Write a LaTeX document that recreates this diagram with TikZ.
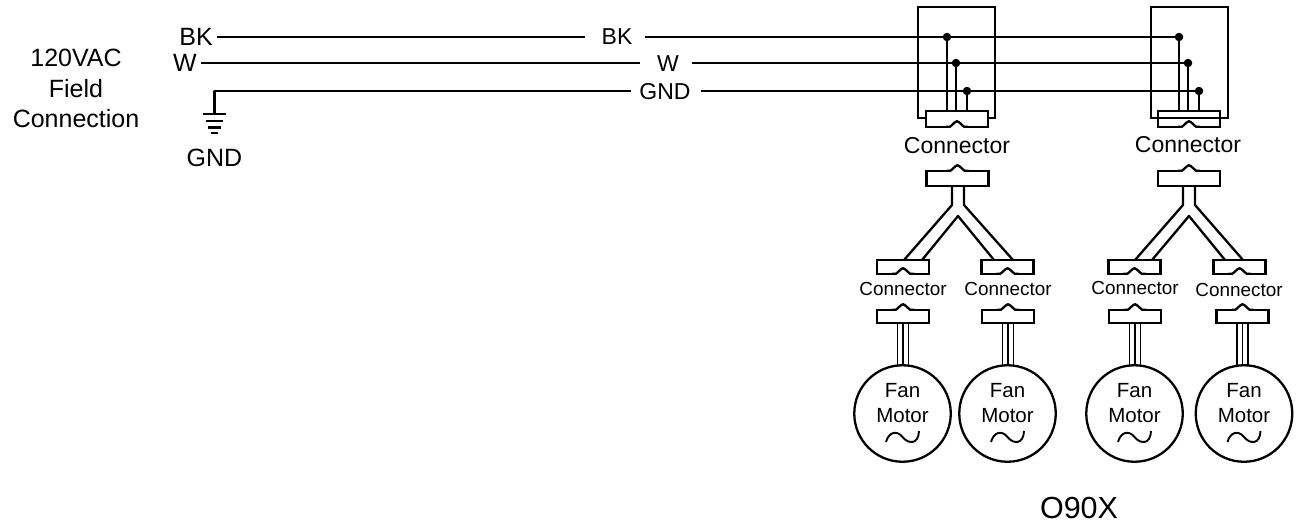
\documentclass[tikz,border=0pt]{standalone}
\usepackage{fontspec}
\setmainfont{Liberation Sans}

\tikzset{
	wire/.style={line width=2.3pt,line join=round},
	thin wire/.style={line width=1.9pt},
	lbl/.style={inner sep=0pt,align=center,font=\fontsize{23}{23}\selectfont},
	lbl big/.style={inner sep=0pt,align=center,font=\fontsize{25}{30.5}\selectfont},
	lbl small/.style={inner sep=0pt,align=center,font=\fontsize{18.9}{18.9}\selectfont},
	junction/.style={shape=circle,fill=black,inner sep=0pt,minimum size=8.5pt},
	panel/.style={shape=rectangle,draw=black,line width=2.3pt,inner sep=0pt,outer sep=0pt,minimum width=77pt,minimum height=111pt},
	plug big/.style={shape=rectangle,draw=black,line width=2.3pt,inner sep=0pt,outer sep=0pt,minimum width=62pt,minimum height=15.5pt},
	plug small/.style={shape=rectangle,draw=black,line width=2.3pt,inner sep=0pt,outer sep=0pt,minimum width=52pt,minimum height=13.5pt},
	motor/.style={shape=circle,draw=black,line width=2.3pt,inner sep=0pt,outer sep=0pt,minimum size=96.5pt},
	bump/.pic={
		\draw[white,line width=3pt] (-9.5,0) -- (9.5,0);
		\draw[wire] (-11,0) -- (-7,0) -- (-2,-4.5) -- (0,-5.5) -- (2,-4.5) -- (7,0) -- (11,0);
	},
	tilde/.pic={
		\draw[thin wire] (-16.5,28.5) .. controls (-14,19) and (-6,16) .. (0,23.5) .. controls (6,31) and (16,31) .. (16.5,17.5);
	},
}

\begin{document}
\begin{tikzpicture}[x=1pt,y=-1pt]
	
	\useasboundingbox (0,0) rectangle (1297,527);
	
	\node[lbl big] (field) at (76,88.5) {120VAC\\Field\\Connection};
	\node[lbl big] (bkl) at (196,37) {BK};
	\node[lbl big] (wl) at (185,63) {W};
	\node[lbl big] (gndl) at (214.5,158) {GND};
	\node[lbl] (bkm) at (617,37) {BK};
	\node[lbl] (wm) at (668,64) {W};
	\node[lbl] (gndm) at (665,92) {GND};
	\node[lbl big,font=\fontsize{30.5}{30.5}\selectfont] (model) at (1079,508) {O90X};
	
	% field wiring
	\coordinate (e) at (214.5,91);
	\coordinate (eg) at (214.5,114);
	\path (bkl.east) ++(4,0) coordinate (bka);
	\path (wl.east) ++(4,0) coordinate (wa);
	\draw[wire] (bka) -- (585,37);
	\draw[wire] (wa) -- (640,63);
	\draw[wire] (eg) -- (e) -- (631,91);
	\draw[wire] (203,114) -- (226,114);
	\draw[wire] (206,121) -- (223,121);
	\draw[wire] (208,127.5) -- (221,127.5);
	\draw[wire] (211,133) -- (218,133);
	
	% upper boxes
	\node[panel] (boxa) at (956.5,62.5) {};
	\node[panel] (boxb) at (1189.5,62.5) {};
	\node[junction] (a1) at (947,37) {};
	\node[junction] (a2) at (956,63) {};
	\node[junction] (a3) at (967,91) {};
	\node[junction] (b1) at (1179,37) {};
	\node[junction] (b2) at (1188,63) {};
	\node[junction] (b3) at (1199,91) {};
	\draw[wire] (645,37) -- (a1) -- (b1);
	\draw[wire] (692,63) -- (a2) -- (b2);
	\draw[wire] (701,91) -- (a3) -- (b3);
	\node[plug big,fill=white] (ca) at (957,119) {} pic at (ca.south) {bump};
	\node[plug big] (cb) at (1189,119) {} pic at (cb.south) {bump};
	\draw[wire] (a1) -- (a1 |- ca.north);
	\draw[wire] (a2) -- (a2 |- ca.north);
	\draw[thin wire] (a3) -- (a3 |- ca.north);
	\draw[wire] (b1) -- (b1 |- cb.north);
	\draw[wire] (b2) -- (b2 |- cb.north);
	\draw[thin wire] (b3) -- (b3 |- cb.north);
	\node[lbl] (ta) at (957,146) {Connector};
	\node[lbl] (tb) at (1188,145) {Connector};
	
	% harness plugs
	\node[plug big] (ha) at (957.5,178.5) {} pic at (ha.north) {bump};
	\node[plug big] (hb) at (1189,178.5) {} pic at (hb.north) {bump};
	\node[plug small] (la) at (903,267) {} pic at (la.south) {bump};
	\node[plug small] (ra) at (1007.5,267) {} pic at (ra.south) {bump};
	\node[plug small] (lb) at (1134.5,267) {} pic at (lb.south) {bump};
	\node[plug small] (rb) at (1239.5,267) {} pic at (rb.south) {bump};
	
	% harness
	\coordinate (ia) at (958,216);
	\coordinate (ib) at (1189,216);
	\draw[wire] (952,186) -- (952,205) -- (904,260);
	\draw[wire] (964,186) -- (964,205) -- (1013,260);
	\draw[wire] (922,260) -- (ia) -- (994,260);
	\draw[wire] (1183,186) -- (1183,205) -- (1135,260);
	\draw[wire] (1195,186) -- (1195,205) -- (1243,260);
	\draw[wire] (1152,260) -- (ib) -- (1225,260);
	
	\node[lbl small] (tla) at (903,289) {Connector};
	\node[lbl small] (tra) at (1008,289) {Connector};
	\node[lbl small] (tlb) at (1135,288) {Connector};
	\node[lbl small] (trb) at (1239,290) {Connector};
	
	% motors
	\node[plug small] (pa) at (903,316.5) {} pic at (pa.north) {bump};
	\node[plug small] (pb) at (1008,316.5) {} pic at (pb.north) {bump};
	\node[plug small] (pc) at (1135,316.5) {} pic at (pc.north) {bump};
	\node[plug small] (pd) at (1242.5,316.5) {} pic at (pd.north) {bump};
	\draw[thin wire] ([xshift=-5.5]pa.south) -- ++(0,42);
	\draw[thin wire] (pa.south) -- ++(0,42);
	\draw[thin wire] ([xshift=5.5]pa.south) -- ++(0,42);
	\draw[thin wire] ([xshift=-5.5]pb.south) -- ++(0,42);
	\draw[thin wire] (pb.south) -- ++(0,42);
	\draw[thin wire] ([xshift=5.5]pb.south) -- ++(0,42);
	\draw[thin wire] ([xshift=-5.5]pc.south) -- ++(0,42);
	\draw[thin wire] (pc.south) -- ++(0,42);
	\draw[thin wire] ([xshift=5.5]pc.south) -- ++(0,42);
	\draw[thin wire] ([xshift=-5.5]pd.south) -- ++(0,42);
	\draw[thin wire] (pd.south) -- ++(0,42);
	\draw[thin wire] ([xshift=5.5]pd.south) -- ++(0,42);
	\node[motor] (ma) at (902.5,413.5) {} pic at (ma.center) {tilde};
	\node[motor] (mb) at (1007.5,413.5) {} pic at (mb.center) {tilde};
	\node[motor] (mc) at (1134.5,413.5) {} pic at (mc.center) {tilde};
	\node[motor] (md) at (1244,413.5) {} pic at (md.center) {tilde};
	\node[lbl,font=\fontsize{20.5}{25}\selectfont] (fa) at (902.5,403.5) {Fan\\Motor};
	\node[lbl,font=\fontsize{20.5}{25}\selectfont] (fb) at (1007.5,403.5) {Fan\\Motor};
	\node[lbl,font=\fontsize{20.5}{25}\selectfont] (fc) at (1134.5,403.5) {Fan\\Motor};
	\node[lbl,font=\fontsize{20.5}{25}\selectfont] (fd) at (1244,403.5) {Fan\\Motor};
	
\end{tikzpicture}
\end{document}
